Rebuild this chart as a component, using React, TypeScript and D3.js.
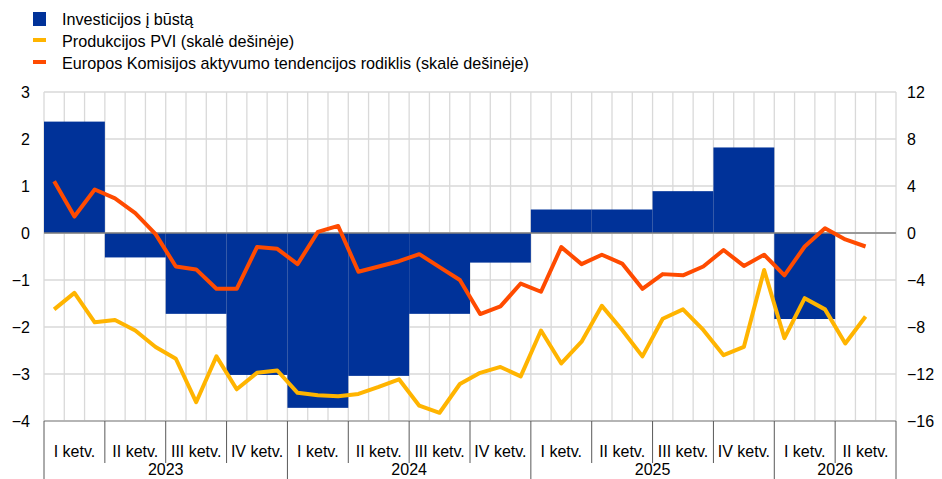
import * as d3 from "d3";
import React, { useEffect, useRef } from "react";

// quarters 2023 Q1 .. 2026 Q2
const quarterLabels = ["I ketv.", "II ketv.", "III ketv.", "IV ketv."];
const years = ["2023", "2024", "2025", "2026"];
const quartersPerYear = [4, 4, 4, 2];

// housing investment, q/q % (left scale)
const investment = [2.37, -0.52, -1.72, -3.02, -3.72, -3.04, -1.72, -0.63, 0.5, 0.5, 0.89, 1.82, -1.83, null];

// monthly, Jan 2023 .. May 2026 (right scale)
const pvi = [
  -6.5, -5.1, -7.6, -7.4, -8.3, -9.7, -10.7, -14.4, -10.5, -13.3, -11.9, -11.7,
  -13.6, -13.8, -13.9, -13.7, -13.1, -12.45, -14.7, -15.3, -12.85, -11.9, -11.4, -12.2,
  -8.3, -11.1, -9.25, -6.2, -8.25, -10.5, -7.3, -6.5, -8.25, -10.4, -9.7, -3.15,
  -8.95, -5.55, -6.5, -9.4, -7.1,
];
const esi = [
  4.4, 1.4, 3.7, 2.95, 1.7, -0.1, -2.85, -3.1, -4.75, -4.75, -1.2, -1.35,
  -2.65, 0.1, 0.6, -3.3, -2.85, -2.4, -1.8, -2.9, -4.0, -6.9, -6.25, -4.3,
  -5.0, -1.2, -2.65, -1.85, -2.6, -4.75, -3.5, -3.6, -2.85, -1.45, -2.8, -1.85,
  -3.6, -1.15, 0.4, -0.55, -1.15,
];
const leftTicks = [3, 2, 1, 0, -1, -2, -3, -4];
const rightTicks = [12, 8, 4, 0, -4, -8, -12, -16];

const BLUE = "#003299";
const YELLOW = "#ffb400";
const ORANGE = "#ff4b00";
const FONT = "'Liberation Sans', Arial, sans-serif";

const W = 942;
const H = 479;

export default function App() {
  const ref = useRef<SVGSVGElement>(null);

  useEffect(() => {
    if (!ref.current) return;
    const svg = d3.select(ref.current);
    svg.selectAll("*").remove();

    const left = 44, right = 896, top = 92, bottom = 421;
    const nMonths = investment.length * 3;

    const x = d3.scaleLinear().domain([0, nMonths]).range([left, right]);
    const yL = d3.scaleLinear().domain([-4, 3]).range([bottom, top]);
    const yR = d3.scaleLinear().domain([-16, 12]).range([bottom, top]);

    const minus = (v: number) => (v < 0 ? "\u2212" + Math.abs(v) : String(v));

    // grid
    const grid = svg.append("g");
    grid
      .selectAll("line.v")
      .data(d3.range(0, nMonths + 1))
      .enter()
      .append("line")
      .attr("x1", (d) => x(d))
      .attr("x2", (d) => x(d))
      .attr("y1", top)
      .attr("y2", bottom)
      .attr("stroke", "#d9d9d9")
      .attr("stroke-width", 1.3);
    grid
      .selectAll("line.h")
      .data(leftTicks)
      .enter()
      .append("line")
      .attr("x1", left)
      .attr("x2", right)
      .attr("y1", (d) => yL(d))
      .attr("y2", (d) => yL(d))
      .attr("stroke", "#d9d9d9")
      .attr("stroke-width", 1.3);

    // bars
    svg
      .append("g")
      .selectAll("rect")
      .data(investment.map((v, i) => ({ v, i })).filter((d) => d.v !== null))
      .enter()
      .append("rect")
      .attr("x", (d) => x(d.i * 3))
      .attr("width", (d) => x(d.i * 3 + 3) - x(d.i * 3))
      .attr("y", (d) => yL(Math.max(0, d.v as number)))
      .attr("height", (d) => Math.abs(yL(d.v as number) - yL(0)))
      .attr("fill", BLUE);

    // zero line + bottom axis line
    svg
      .append("line")
      .attr("x1", left)
      .attr("x2", right)
      .attr("y1", yL(0))
      .attr("y2", yL(0))
      .attr("stroke", "#808080")
      .attr("stroke-width", 1.3);
    svg
      .append("line")
      .attr("x1", left)
      .attr("x2", right)
      .attr("y1", bottom)
      .attr("y2", bottom)
      .attr("stroke", "#a6a6a6")
      .attr("stroke-width", 1.3);

    // lines
    const line = d3
      .line<number>()
      .x((_, i) => x(i + 0.5))
      .y((d) => yR(d));
    svg
      .append("path")
      .attr("d", line(pvi))
      .attr("fill", "none")
      .attr("stroke", YELLOW)
      .attr("stroke-width", 4)
      .attr("stroke-linejoin", "round");
    svg
      .append("path")
      .attr("d", line(esi))
      .attr("fill", "none")
      .attr("stroke", ORANGE)
      .attr("stroke-width", 4)
      .attr("stroke-linejoin", "round");

    // y axis labels
    svg
      .append("g")
      .selectAll("text")
      .data(leftTicks)
      .enter()
      .append("text")
      .attr("x", 30)
      .attr("y", (d) => yL(d) + 6)
      .attr("text-anchor", "end")
      .attr("font-family", FONT)
      .attr("font-size", 16)
      .attr("fill", "#000")
      .text(minus);
    svg
      .append("g")
      .selectAll("text")
      .data(rightTicks)
      .enter()
      .append("text")
      .attr("x", 907)
      .attr("y", (d) => yR(d) + 6)
      .attr("text-anchor", "start")
      .attr("font-family", FONT)
      .attr("font-size", 16)
      .attr("fill", "#000")
      .text(minus);

    // x axis: quarter ticks, quarter labels, years
    const qIdx = d3.range(0, investment.length + 1);
    const yearStarts = [0];
    quartersPerYear.forEach((n, i) => yearStarts.push(yearStarts[i] + n));
    svg
      .append("g")
      .selectAll("line")
      .data(qIdx)
      .enter()
      .append("line")
      .attr("x1", (d) => x(d * 3))
      .attr("x2", (d) => x(d * 3))
      .attr("y1", bottom)
      .attr("y2", (d) => (yearStarts.includes(d) ? H : 463))
      .attr("stroke", "#595959")
      .attr("stroke-width", 1);
    svg
      .append("g")
      .selectAll("text")
      .data(d3.range(0, investment.length))
      .enter()
      .append("text")
      .attr("x", (d) => x(d * 3 + 1.5))
      .attr("y", 457)
      .attr("text-anchor", "middle")
      .attr("font-family", FONT)
      .attr("font-size", 16)
      .attr("fill", "#000")
      .text((d) => quarterLabels[d % 4]);
    svg
      .append("g")
      .selectAll("text")
      .data(years)
      .enter()
      .append("text")
      .attr("x", (_, i) => x(((yearStarts[i] + yearStarts[i + 1]) / 2) * 3))
      .attr("y", 475)
      .attr("text-anchor", "middle")
      .attr("font-family", FONT)
      .attr("font-size", 16)
      .attr("fill", "#000")
      .text((d) => d);

    // legend
    const legend = svg.append("g").attr("font-family", FONT).attr("font-size", 16.2);
    legend.append("rect").attr("x", 33).attr("y", 12).attr("width", 13).attr("height", 14).attr("fill", BLUE);
    legend.append("rect").attr("x", 33).attr("y", 38).attr("width", 13).attr("height", 4).attr("fill", YELLOW);
    legend.append("rect").attr("x", 33).attr("y", 60).attr("width", 13).attr("height", 4).attr("fill", ORANGE);
    const legendTexts = [
      "Investicijos į būstą",
      "Produkcijos PVI (skalė dešinėje)",
      "Europos Komisijos aktyvumo tendencijos rodiklis (skalė dešinėje)",
    ];
    legend
      .selectAll("text")
      .data(legendTexts)
      .enter()
      .append("text")
      .attr("x", 62)
      .attr("y", (_, i) => 25 + i * 22)
      .attr("fill", "#000")
      .text((d) => d);
  }, []);

  return (
    <svg
      ref={ref}
      width={W}
      height={H}
      style={{ position: "absolute", left: 0, top: 0, background: "#fff" }}
    ></svg>
  );
}
